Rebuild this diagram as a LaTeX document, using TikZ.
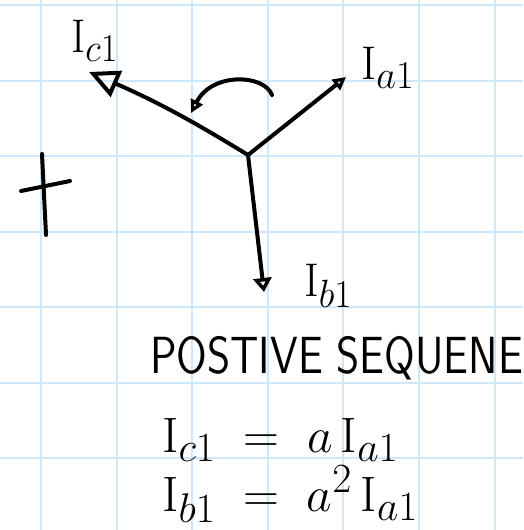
\documentclass[tikz,border=0pt]{standalone}
\usepackage{amsmath}
\usepackage{graphicx}
\usepackage{tikz}
\usetikzlibrary{arrows.meta}
\definecolor{gridblue}{RGB}{204,232,250}
\newcommand{\handtext}[3]{\scalebox{#1}[#2]{\Huge #3}}

\begin{document}
\begin{tikzpicture}[
  x=1pt, y=-1pt,
  pen/.style={line width=4pt, line cap=round, line join=round},
  bigarr/.style={pen, -{Triangle[open, length=30pt, width=28pt]}},
  smallarr/.style={pen, -{Triangle[open, length=13pt, width=13pt]}},
  lab/.style={inner sep=0pt, anchor=base west},
  ]
  \useasboundingbox (0,0) rectangle (523,530);
  % grid paper
  \foreach \k in {0,...,6} {
    \draw[gridblue, line width=2pt] (41+75.6*\k,0) -- (41+75.6*\k,530);
    \draw[gridblue, line width=2pt] (0,5+75.5*\k) -- (523,5+75.5*\k);
  }
  % phasors
  \coordinate (o) at (248,155);
  \coordinate (c) at (89,72);
  \coordinate (a) at (346,77);
  \coordinate (b) at (264,292);
  \draw[bigarr] (o) to[bend right=4] (c);
  \draw[smallarr] (o) -- (a);
  \draw[pen, -{Triangle[open, length=14pt, width=18pt]}] (o) -- (b);
  % rotation arc
  \coordinate (arcs) at (272,95);
  \coordinate (arce) at (191,113);
  \draw[smallarr] (arcs) .. controls (264,74) and (212,72) .. (arce);
  % plus sign
  \draw[pen] (42,154) -- (46,235);
  \draw[pen] (21,191) -- (70,181);
  % labels
  \node[lab] (lc) at (71,52) {\handtext{1.75}{1.9}{$\mathrm{I}_{c1}$}};
  \node[lab] (la) at (361,79) {\handtext{1.85}{1.9}{$\mathrm{I}_{a1}$}};
  \node[lab] (lb) at (304,296) {\handtext{1.8}{1.9}{$\mathrm{I}_{b1}$}};
  \node[lab] (title) at (150,373) {\handtext{1.78}{2.1}{\sffamily POSTIVE SEQUENE}};
  \node[lab] (eqc) at (162,452) {\handtext{2}{2}{$\mathrm{I}_{c1} \;=\; a\,\mathrm{I}_{a1}$}};
  \node[lab] (eqb) at (162,511) {\handtext{2}{2}{$\mathrm{I}_{b1} \;=\; a^{2}\,\mathrm{I}_{a1}$}};
\end{tikzpicture}
\end{document}
